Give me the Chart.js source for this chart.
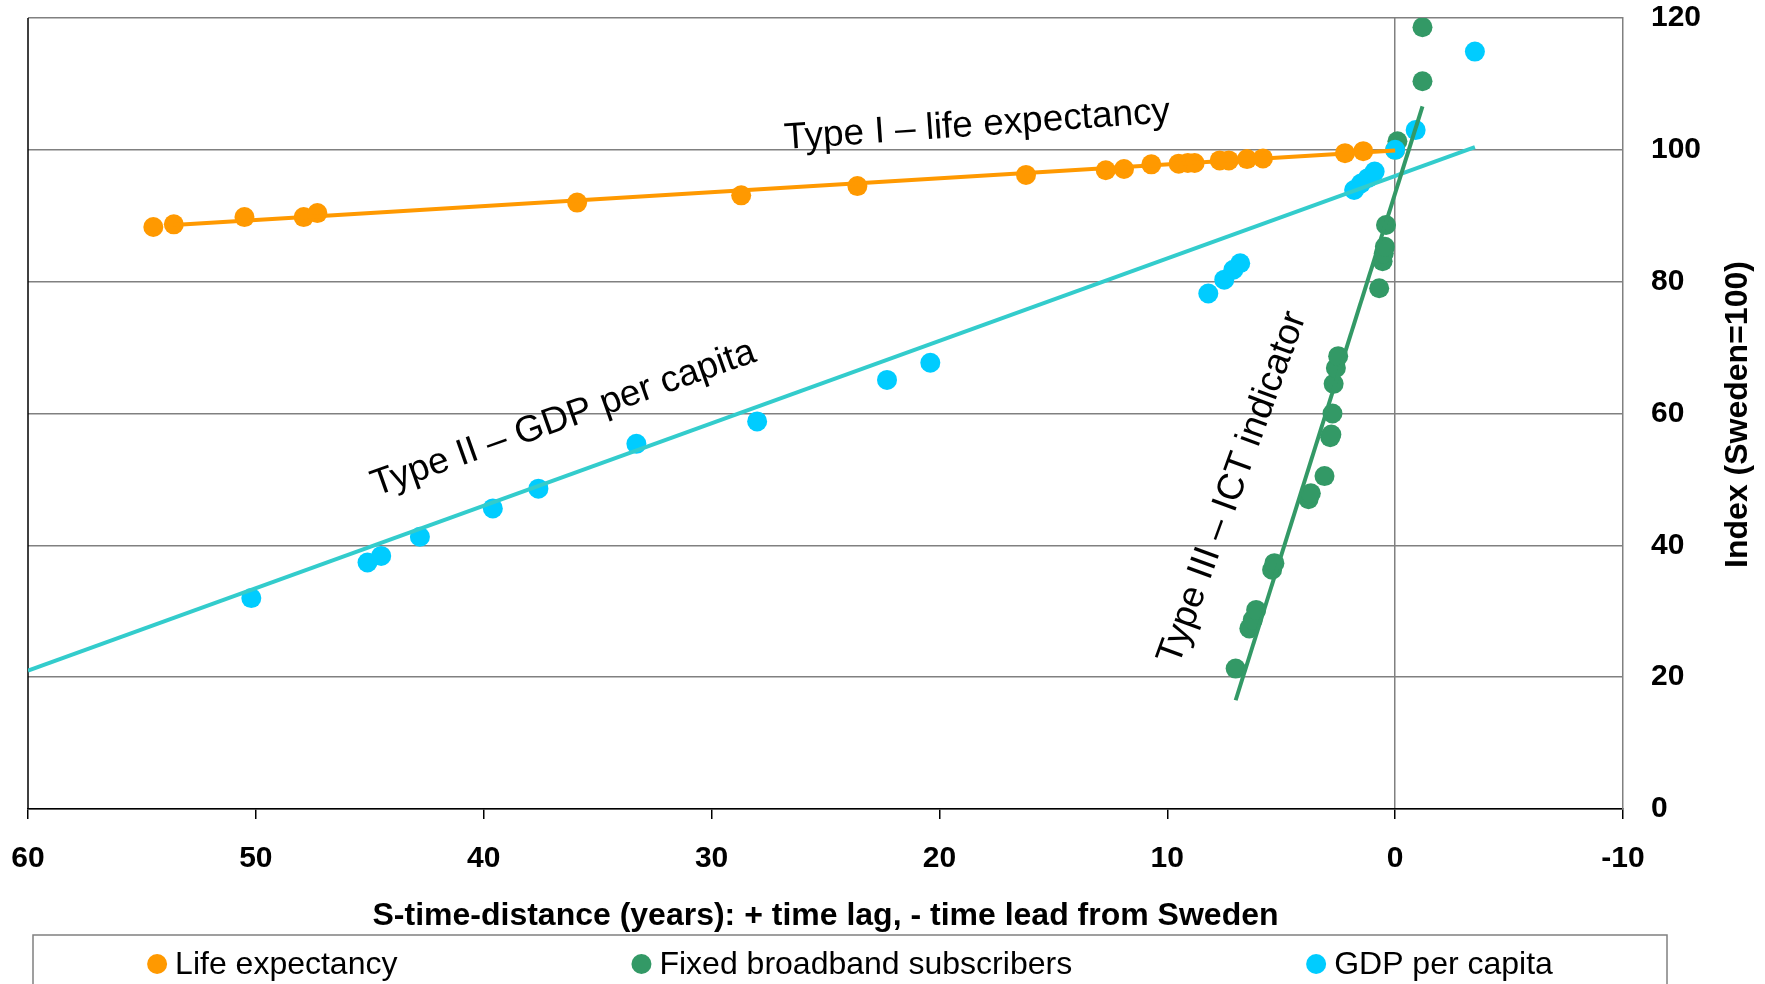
<!DOCTYPE html>
<html>
<head>
<meta charset="utf-8">
<title>S-time-distance from Sweden</title>
<script src="https://cdn.jsdelivr.net/npm/chart.js@4.4.1/dist/chart.umd.min.js"></script>
<style>
    html, body { margin: 0; padding: 0; background: #fff; }
    #wrap { width: 1765px; height: 984px; }
</style>
</head>
<body>
<div id="wrap"><canvas id="myChart"></canvas></div>
<script>
// S-time-distance in years (+ lag, - lead) and index values (Sweden=100)
var lifeX = [54.5, 53.6, 50.5, 47.9, 47.3, 35.9, 28.7, 23.6, 16.2, 12.7, 11.9, 10.7, 9.5, 9.1, 8.8, 7.7, 7.3, 6.5, 5.8, 2.2, 1.4, 0];
var lifeY = [88.3, 88.7, 89.8, 89.8, 90.4, 92.0, 93.1, 94.5, 96.2, 96.9, 97.1, 97.8, 97.9, 98.0, 98.0, 98.4, 98.4, 98.6, 98.7, 99.5, 99.8, 100];

var broadbandX = [7.0, 6.4, 6.25, 6.1, 5.4, 5.3, 3.8, 3.7, 3.1, 2.85, 2.8, 2.75, 2.7, 2.6, 2.5, 0.7, 0.55, 0.5, 0.45, 0.4, -0.1, -1.2, -1.2];
var broadbandY = [21.3, 27.4, 28.7, 30.2, 36.3, 37.3, 47.0, 47.9, 50.5, 56.4, 56.8, 60.0, 64.5, 66.9, 68.7, 79.0, 83.1, 84.3, 85.3, 88.6, 101.3, 110.4, 118.6];

var gdpX = [50.2, 45.1, 44.5, 42.8, 39.6, 37.6, 33.3, 28.0, 22.3, 20.4, 8.2, 7.5, 7.1, 6.8, 1.8, 1.5, 1.2, 0.9, 0, -0.9, -3.5];
var gdpY = [32.0, 37.4, 38.4, 41.3, 45.6, 48.6, 55.4, 58.8, 65.1, 67.7, 78.2, 80.3, 81.8, 82.8, 93.9, 94.9, 95.7, 96.7, 100, 103.0, 114.9];

// trend lines (start / end)
var lifeTrendX = [53.6, 0];
var lifeTrendY = [88.6, 99.9];
var gdpTrendX = [60, -3.5];
var gdpTrendY = [21.0, 100.4];
var broadbandTrendX = [7.0, -1.2];
var broadbandTrendY = [16.5, 106.6];

var xTicks = [60, 50, 40, 30, 20, 10, 0, -10];
var yTicks = [0, 20, 40, 60, 80, 100, 120];

var FONT = "'Liberation Sans', Arial, sans-serif";

function pts(xs, ys) {
    return xs.map(function(x, i) { return { x: x, y: ys[i] }; });
}

// curve labels, placed in data coordinates
var notes = [
    { text: 'Type I \u2013 life expectancy', x: 18.35, y: 103.7, angle: -4 },
    { text: 'Type II \u2013 GDP per capita', x: 36.5, y: 59.2, angle: -19.5 },
    { text: 'Type III \u2013 ICT indicator', x: 7.13, y: 48.7, angle: -70 }
];

var extras = {
    id: 'extras',
    beforeDatasetsDraw: function(chart) {
        var ctx = chart.ctx, a = chart.chartArea;
        ctx.save();
        ctx.strokeStyle = '#000';
        ctx.lineWidth = 1.5;
        ctx.beginPath();
        ctx.moveTo(a.left, a.top);
        ctx.lineTo(a.left, a.bottom);
        ctx.stroke();
        ctx.restore();
    },
    afterDraw: function(chart) {
        var ctx = chart.ctx, a = chart.chartArea;
        var xs = chart.scales.x, ys = chart.scales.y;
        ctx.save();
        ctx.fillStyle = '#000';
        ctx.textAlign = 'center';
        ctx.textBaseline = 'middle';

        // labels along the trend lines
        ctx.font = '37px ' + FONT;
        notes.forEach(function(n) {
            ctx.save();
            ctx.translate(xs.getPixelForValue(n.x), ys.getPixelForValue(n.y));
            ctx.rotate(n.angle * Math.PI / 180);
            ctx.fillText(n.text, 0, 0);
            ctx.restore();
        });

        // y axis title, reading bottom to top
        ctx.save();
        ctx.font = 'bold 32px ' + FONT;
        ctx.translate(1738, (a.top + a.bottom) / 2 + 1);
        ctx.rotate(-Math.PI / 2);
        ctx.fillText('Index (Sweden=100)', 0, 0);
        ctx.restore();

        // legend box
        var boxLeft = 33, boxRight = 1667, boxTop = 935;
        ctx.strokeStyle = '#808080';
        ctx.lineWidth = 1.5;
        ctx.strokeRect(boxLeft, boxTop, boxRight - boxLeft, 120);

        var items = chart.data.datasets.filter(function(ds) { return !ds.trend; });
        ctx.font = '32px ' + FONT;
        var gap = 234;
        var widths = items.map(function(ds) { return 28 + ctx.measureText(ds.label).width; });
        var total = widths.reduce(function(s, w) { return s + w; }, 0) + gap * (items.length - 1);
        var x = (boxLeft + boxRight) / 2 - total / 2;
        var ty = 964;
        ctx.textAlign = 'left';
        items.forEach(function(ds, i) {
            ctx.fillStyle = ds.backgroundColor;
            ctx.beginPath();
            ctx.arc(x + 10, ty, 10, 0, Math.PI * 2);
            ctx.fill();
            ctx.fillStyle = '#000';
            ctx.fillText(ds.label, x + 28, ty + 1);
            x += widths[i] + gap;
        });
        ctx.restore();
    }
};

Chart.defaults.font.family = FONT;
Chart.defaults.color = '#000';

var ctx = document.getElementById('myChart').getContext('2d');
var myChart = new Chart(ctx, {
    type: 'scatter',
    data: {
        datasets: [
            {
                label: 'Life expectancy',
                data: pts(lifeX, lifeY),
                backgroundColor: '#FF9900',
                borderColor: '#FF9900',
                pointRadius: 10,
                borderWidth: 0,
                order: 6
            },
            {
                label: 'Fixed broadband subscribers',
                data: pts(broadbandX, broadbandY),
                backgroundColor: '#339966',
                borderColor: '#339966',
                pointRadius: 10,
                borderWidth: 0,
                order: 5
            },
            {
                label: 'GDP per capita',
                data: pts(gdpX, gdpY),
                backgroundColor: '#00CCFF',
                borderColor: '#00CCFF',
                pointRadius: 10,
                borderWidth: 0,
                order: 4
            },
            {
                label: 'life trend',
                trend: true,
                data: pts(lifeTrendX, lifeTrendY),
                showLine: true,
                borderColor: '#FF9900',
                borderWidth: 4,
                pointRadius: 0,
                order: 3
            },
            {
                label: 'gdp trend',
                trend: true,
                data: pts(gdpTrendX, gdpTrendY),
                showLine: true,
                borderColor: '#33CCCC',
                borderWidth: 4,
                pointRadius: 0,
                order: 2
            },
            {
                label: 'broadband trend',
                trend: true,
                data: pts(broadbandTrendX, broadbandTrendY),
                showLine: true,
                borderColor: '#339966',
                borderWidth: 4,
                pointRadius: 0,
                order: 1
            }
        ]
    },
    options: {
        responsive: true,
        maintainAspectRatio: false,
        animation: false,
        layout: {
            padding: { left: 28, top: 18, right: 0, bottom: 0 }
        },
        plugins: {
            legend: { display: false },
            tooltip: { enabled: false }
        },
        scales: {
            x: {
                type: 'linear',
                position: 'bottom',
                reverse: true,
                min: -10,
                max: 60,
                afterBuildTicks: function(scale) {
                    scale.ticks = xTicks.map(function(v) { return { value: v }; });
                },
                afterFit: function(scale) {
                    scale.height = 175;
                    scale.paddingLeft = 0;
                    scale.paddingRight = 0;
                },
                ticks: {
                    font: { size: 30, weight: 'bold' },
                    padding: 22,
                    maxRotation: 0
                },
                grid: {
                    color: function(c) { return c.tick && c.tick.value === 0 ? '#808080' : 'rgba(0,0,0,0)'; },
                    lineWidth: 1.5,
                    drawTicks: true,
                    tickLength: 10,
                    tickColor: '#000',
                    tickWidth: 1.5
                },
                border: { display: true, color: '#000', width: 1.5 },
                title: {
                    display: true,
                    text: 'S-time-distance (years): + time lag, - time lead from Sweden',
                    font: { size: 32, weight: 'bold' },
                    padding: { top: 0, bottom: 49 }
                }
            },
            y: {
                type: 'linear',
                position: 'right',
                min: 0,
                max: 120,
                afterBuildTicks: function(scale) {
                    scale.ticks = yTicks.map(function(v) { return { value: v }; });
                },
                afterFit: function(scale) {
                    scale.width = 142;
                    scale.paddingTop = 0;
                    scale.paddingBottom = 0;
                },
                ticks: {
                    font: { size: 30, weight: 'bold' },
                    padding: 28
                },
                grid: {
                    color: '#808080',
                    lineWidth: 1.5,
                    drawTicks: false
                },
                border: { display: true, color: '#808080', width: 1.5 }
            }
        }
    },
    plugins: [extras]
});
</script>
</body>
</html>
